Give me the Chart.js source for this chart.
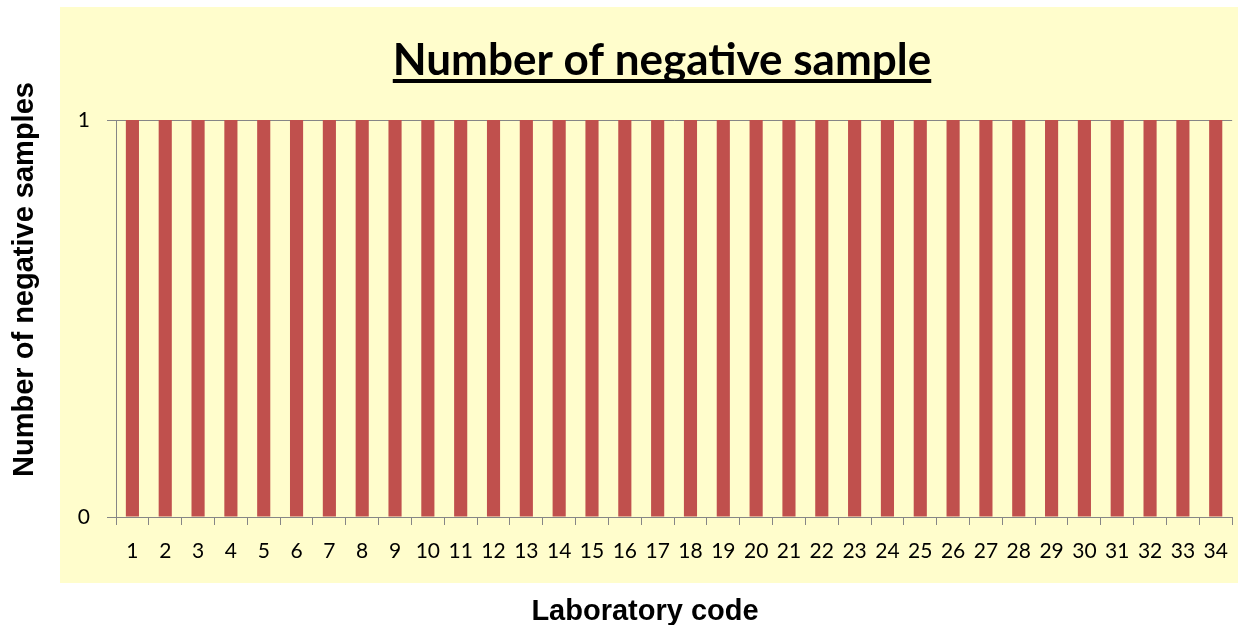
<!DOCTYPE html>
<html>
<head>
<meta charset="utf-8">
<script src="https://cdn.jsdelivr.net/npm/chart.js@4/dist/chart.umd.min.js"></script>
<style>
  html, body { margin: 0; padding: 0; background: #ffffff; }
  #wrap { width: 1242px; height: 625px; position: relative; }
</style>
</head>
<body>
<div id="wrap"><canvas id="c" width="1242" height="625"></canvas></div>
<script>
const categories = ["1","2","3","4","5","6","7","8","9","10","11","12","13","14","15","16","17","18","19","20","21","22","23","24","25","26","27","28","29","30","31","32","33","34"];
const negativeSamples = [1,1,1,1,1,1,1,1,1,1,1,1,1,1,1,1,1,1,1,1,1,1,1,1,1,1,1,1,1,1,1,1,1,1];
const yTicks = [0, 1];
const chartTitle = "Number of negative sample";
const xTitle = "Laboratory code";
const yTitle = "Number of negative samples";

const panelPlugin = {
  id: 'panel',
  beforeDraw(chart) {
    const ctx = chart.ctx;
    ctx.save();
    ctx.fillStyle = '#ffffff';
    ctx.fillRect(0, 0, chart.width, chart.height);
    ctx.fillStyle = '#FFFDCC';
    ctx.fillRect(60, 7, 1178, 576);
    ctx.restore();
  },
  afterDraw(chart) {
    const ctx = chart.ctx;
    ctx.save();
    ctx.fillStyle = '#000';
    // chart title with underline
    ctx.font = 'bold 44px Lato';
    ctx.textAlign = 'center';
    ctx.textBaseline = 'alphabetic';
    const tx = 662;
    ctx.fillText(chartTitle, tx, 75);
    const w = ctx.measureText(chartTitle).width;
    ctx.fillRect(tx - w / 2, 79, w, 4);
    // x axis title
    ctx.font = 'bold 29px "Liberation Sans", Arial';
    ctx.fillText(xTitle, 645, 620);
    // y axis title
    ctx.translate(33, 279.5);
    ctx.rotate(-Math.PI / 2);
    ctx.fillText(yTitle, 0, 0);
    ctx.restore();
  }
};

new Chart(document.getElementById('c'), {
  type: 'bar',
  data: {
    labels: categories,
    datasets: [{
      data: negativeSamples,
      backgroundColor: '#C0504D',
      borderWidth: 0,
      barPercentage: 0.4,
      categoryPercentage: 1.0
    }]
  },
  options: {
    responsive: false,
    animation: false,
    devicePixelRatio: 1,
    layout: { padding: { left: 0, right: 7, top: 120, bottom: 0 } },
    plugins: {
      legend: { display: false },
      tooltip: { enabled: false },
      title: { display: false }
    },
    scales: {
      x: {
        grid: {
          display: true,
          drawOnChartArea: false,
          drawTicks: true,
          tickLength: 8,
          color: '#868686',
          offset: true
        },
        border: { display: true, color: '#868686', width: 1 },
        ticks: {
          color: '#000',
          font: { family: 'Lato', size: 21 },
          padding: 14,
          maxRotation: 0,
          autoSkip: false
        },
        afterFit(scale) { scale.height = 108; }
      },
      y: {
        min: 0,
        max: 1,
        afterBuildTicks(scale) { scale.ticks = yTicks.map(v => ({ value: v })); },
        grid: {
          display: true,
          drawOnChartArea: true,
          drawTicks: true,
          tickLength: 9,
          color: '#868686'
        },
        border: { display: true, color: '#868686', width: 1 },
        ticks: {
          color: '#000',
          font: { family: 'Lato', size: 21 },
          padding: 17
        },
        afterFit(scale) { scale.width = 116; }
      }
    }
  },
  plugins: [panelPlugin]
});
</script>
</body>
</html>
